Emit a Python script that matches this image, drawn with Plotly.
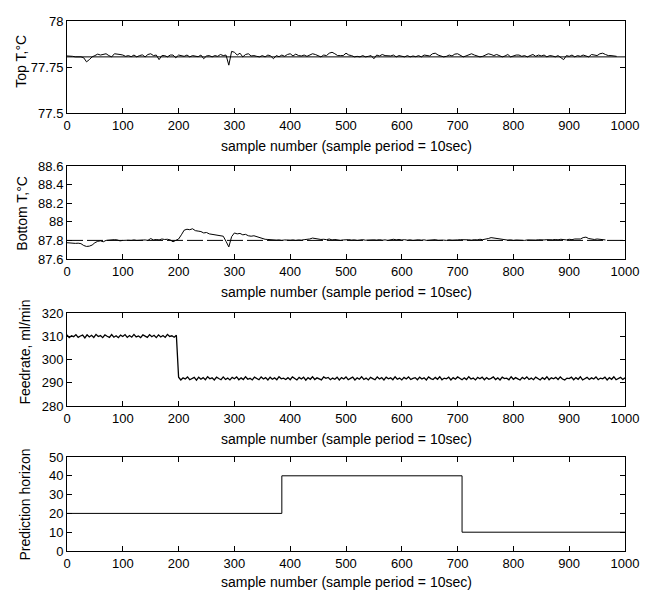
import plotly.graph_objects as go
from plotly.subplots import make_subplots

# ---------------- data ----------------
top_x = list(range(0, 986, 5))
top_T = [77.810, 77.810, 77.808, 77.805, 77.805, 77.805, 77.800, 77.778, 77.790, 77.805,
         77.812, 77.820, 77.815, 77.818, 77.822, 77.812, 77.805, 77.822, 77.818, 77.818,
         77.815, 77.808, 77.812, 77.806, 77.815, 77.805, 77.812, 77.816, 77.805, 77.818,
         77.822, 77.812, 77.815, 77.790, 77.812, 77.812, 77.805, 77.815, 77.815, 77.800,
         77.815, 77.812, 77.808, 77.815, 77.805, 77.812, 77.810, 77.806, 77.815, 77.795,
         77.810, 77.812, 77.805, 77.812, 77.808, 77.818, 77.812, 77.815, 77.760, 77.835,
         77.830, 77.815, 77.825, 77.805, 77.818, 77.822, 77.810, 77.812, 77.808, 77.805,
         77.812, 77.805, 77.815, 77.810, 77.795, 77.812, 77.806, 77.815, 77.808, 77.818,
         77.822, 77.810, 77.820, 77.812, 77.810, 77.815, 77.808, 77.815, 77.822, 77.818,
         77.810, 77.805, 77.815, 77.812, 77.825, 77.830, 77.822, 77.812, 77.812, 77.812,
         77.825, 77.815, 77.812, 77.805, 77.808, 77.805, 77.812, 77.805, 77.808, 77.812,
         77.795, 77.815, 77.810, 77.818, 77.812, 77.812, 77.810, 77.815, 77.805, 77.812,
         77.810, 77.805, 77.812, 77.805, 77.810, 77.806, 77.812, 77.805, 77.815, 77.812,
         77.810, 77.822, 77.825, 77.815, 77.812, 77.805, 77.808, 77.815, 77.810, 77.820,
         77.822, 77.815, 77.805, 77.810, 77.818, 77.822, 77.815, 77.812, 77.805, 77.808,
         77.815, 77.822, 77.818, 77.812, 77.818, 77.812, 77.805, 77.810, 77.818, 77.805,
         77.810, 77.815, 77.815, 77.808, 77.812, 77.805, 77.812, 77.818, 77.808, 77.815,
         77.810, 77.815, 77.805, 77.812, 77.810, 77.805, 77.812, 77.800, 77.790, 77.812,
         77.808, 77.815, 77.805, 77.812, 77.808, 77.815, 77.812, 77.805, 77.818, 77.815,
         77.812, 77.822, 77.825, 77.818, 77.812, 77.812, 77.810, 77.808]
top_setpoint = 77.805

bottom_x = list(range(0, 971, 5))
bottom_T = [87.775, 87.770, 87.772, 87.768, 87.770, 87.765, 87.745, 87.735, 87.738, 87.750,
            87.775, 87.790, 87.795, 87.785, 87.800, 87.805, 87.805, 87.808, 87.805, 87.795,
            87.800, 87.805, 87.802, 87.800, 87.805, 87.800, 87.802, 87.800, 87.805, 87.800,
            87.820, 87.805, 87.810, 87.805, 87.815, 87.810, 87.812, 87.805, 87.785, 87.800,
            87.815, 87.860, 87.910, 87.920, 87.915, 87.925, 87.905, 87.900, 87.895, 87.880,
            87.885, 87.870, 87.865, 87.860, 87.860, 87.850, 87.845, 87.790, 87.730, 87.840,
            87.880, 87.870, 87.875, 87.860, 87.865, 87.850, 87.845, 87.850, 87.840, 87.825,
            87.815, 87.812, 87.810, 87.805, 87.808, 87.803, 87.805, 87.800, 87.805, 87.800,
            87.802, 87.805, 87.800, 87.805, 87.802, 87.808, 87.810, 87.815, 87.825, 87.818,
            87.815, 87.810, 87.812, 87.808, 87.815, 87.805, 87.810, 87.805, 87.800, 87.805,
            87.810, 87.808, 87.803, 87.806, 87.800, 87.804, 87.808, 87.802, 87.805, 87.800,
            87.806, 87.803, 87.808, 87.802, 87.806, 87.800, 87.805, 87.812, 87.806, 87.810,
            87.804, 87.808, 87.802, 87.806, 87.800, 87.804, 87.807, 87.802, 87.806, 87.800,
            87.805, 87.803, 87.808, 87.801, 87.806, 87.803, 87.800, 87.806, 87.802, 87.807,
            87.805, 87.808, 87.810, 87.804, 87.806, 87.802, 87.808, 87.805, 87.812, 87.808,
            87.812, 87.820, 87.830, 87.825, 87.815, 87.810, 87.805, 87.808, 87.803, 87.806,
            87.800, 87.804, 87.802, 87.806, 87.800, 87.805, 87.802, 87.806, 87.803, 87.807,
            87.802, 87.805, 87.808, 87.804, 87.806, 87.810, 87.806, 87.812, 87.808, 87.805,
            87.812, 87.808, 87.815, 87.818, 87.815, 87.830, 87.835, 87.820, 87.815, 87.810,
            87.815, 87.810, 87.805, 87.805]
bottom_setpoint = 87.8

feed_x = list(range(0, 1001, 4))
feedrate = [
    310.6, 309.4, 310.2, 309.8, 310.7, 309.5, 310.1, 310.5, 309.3, 310.6,
    309.7, 310.4, 309.5, 310.8, 309.9, 310.3, 309.4, 310.6, 310.0, 309.5,
    310.7, 309.6, 310.2, 309.4, 310.5, 309.9, 310.7, 309.5, 310.3, 309.6,
    310.8, 309.7, 310.1, 309.4, 310.6, 310.2, 309.5, 310.7, 309.8, 310.4,
    309.4, 310.6, 309.7, 310.3, 309.5, 310.8, 309.9, 310.2, 309.6, 310.4,
    292.4, 291.2, 292.1, 291.6, 292.5, 291.3, 291.9, 292.3, 291.1, 292.4,
    291.5, 292.2, 291.3, 292.6, 291.7, 292.1, 291.2, 292.4, 291.8, 291.3,
    292.5, 291.4, 292.0, 291.2, 292.3, 291.7, 292.5, 291.3, 292.1, 291.4,
    292.6, 291.5, 291.9, 291.2, 292.4, 292.0, 291.3, 292.5, 291.6, 292.2,
    291.2, 292.4, 291.5, 292.1, 291.3, 292.6, 291.7, 292.0, 291.4, 292.2,
    291.3, 292.5, 291.8, 291.2, 292.3, 291.6, 292.4, 291.1, 292.2, 291.5,
    292.6, 291.4, 292.1, 291.7, 291.2, 292.5, 291.9, 292.3, 291.3, 292.0,
    291.5, 292.4, 291.2, 292.2, 291.6, 292.5, 291.3, 291.9, 292.4, 291.2,
    292.1, 291.5, 292.6, 291.4, 292.0, 291.2, 292.3, 291.8, 291.3, 292.5,
    291.6, 292.2, 291.2, 292.4, 291.7, 292.1, 291.3, 292.6, 291.5, 292.0,
    291.2, 292.3, 291.6, 292.5, 291.4, 291.9, 292.2, 291.3, 292.4, 291.6,
    292.1, 291.2, 292.5, 291.8, 291.4, 292.3, 291.5, 292.6, 291.3, 292.0,
    291.7, 292.4, 291.2, 292.2, 291.5, 292.5, 291.9, 291.3, 292.1, 291.4,
    292.6, 291.6, 292.0, 291.2, 292.3, 291.7, 292.4, 291.3, 292.2, 291.5,
    291.9, 292.5, 291.4, 292.1, 291.2, 292.4, 291.8, 292.0, 291.3, 292.6,
    291.5, 292.2, 291.7, 291.2, 292.3, 291.6, 292.5, 291.4, 292.0, 291.3,
    292.4, 291.9, 291.2, 292.2, 291.5, 292.6, 291.3, 292.1, 291.7, 292.3,
    291.4, 292.5, 291.6, 291.2, 292.0, 291.8, 292.4, 291.3, 292.2, 291.5,
    292.6, 291.2, 291.9, 292.3, 291.4, 292.1, 291.6, 292.5, 291.3, 292.0,
    291.7, 292.4, 291.2, 292.2, 291.5, 292.6, 291.3, 291.9, 292.3, 291.4,
    292.1]

horizon_x = [0, 385, 708, 1000]
horizon = [20, 40, 10, 10]

x_ticks = [0, 100, 200, 300, 400, 500, 600, 700, 800, 900, 1000]
top_ticks = [77.5, 77.75, 78]
top_ticktext = ["77.5", "77.75", "78"]
bottom_ticks = [87.6, 87.8, 88.0, 88.2, 88.4, 88.6]
bottom_ticktext = ["87.6", "87.8", "88", "88.2", "88.4", "88.6"]
feed_ticks = [280, 290, 300, 310, 320]
horizon_ticks = [0, 10, 20, 30, 40, 50]

xlabel = "sample number (sample period = 10sec)"
ylabels = ["Top T,°C", "Bottom T,°C", "Feedrate, ml/min", "Prediction horizon"]

# ---------------- layout geometry ----------------
W, H = 651, 590
L, R, T, B = 67, 18, 21, 39
PH = H - T - B
panels = [(21, 113), (166, 259), (313, 406), (457, 551)]
xlab_off = [33, 33, 33, 31]
ylab_px = [(20, 61), (21, 213), (24, 352), (24, 505)]

def py(p):
    return (H - B - p) / PH

FONT = "Liberation Sans, Arial, sans-serif"

fig = make_subplots(rows=4, cols=1)

blk = dict(color="black", width=1)
fig.add_trace(go.Scatter(x=[0, 1000], y=[top_setpoint, top_setpoint], mode="lines",
                         line=blk, showlegend=False), row=1, col=1)
fig.add_trace(go.Scatter(x=top_x, y=top_T, mode="lines", line=blk, showlegend=False), row=1, col=1)
fig.add_trace(go.Scatter(x=[0, 1000], y=[bottom_setpoint, bottom_setpoint], mode="lines",
                         line=dict(color="black", width=1, dash="16px,4px"), showlegend=False), row=2, col=1)
fig.add_trace(go.Scatter(x=bottom_x, y=bottom_T, mode="lines", line=blk, showlegend=False), row=2, col=1)
fig.add_trace(go.Scatter(x=feed_x, y=feedrate, mode="lines", line=dict(color="black", width=1.3),
                         showlegend=False), row=3, col=1)
fig.add_trace(go.Scatter(x=horizon_x, y=horizon, mode="lines", line=dict(color="black", width=1, shape="hv"),
                         showlegend=False), row=4, col=1)

yranges = [[77.5, 78], [87.6, 88.6], [280, 320], [0, 50]]
ytv = [top_ticks, bottom_ticks, feed_ticks, horizon_ticks]
ytt = [top_ticktext, bottom_ticktext, [str(v) for v in feed_ticks], [str(v) for v in horizon_ticks]]

axcommon = dict(showline=True, linecolor="black", linewidth=1, mirror="allticks",
                ticks="inside", ticklen=5, tickcolor="black", tickwidth=1,
                showgrid=False, zeroline=False,
                tickfont=dict(family=FONT, size=13, color="black"))

for i in range(4):
    top_p, bot_p = panels[i]
    xa = "xaxis" if i == 0 else f"xaxis{i+1}"
    ya = "yaxis" if i == 0 else f"yaxis{i+1}"
    fig.layout[xa].update(range=[0, 1000], tickvals=x_ticks, domain=[0, 1], **axcommon)
    fig.layout[ya].update(range=yranges[i], tickvals=ytv[i], ticktext=ytt[i],
                          domain=[py(bot_p), py(top_p)], **axcommon)
    fig.add_annotation(text=xlabel, xref="paper", yref="paper", x=0.5, y=py(bot_p + xlab_off[i]),
                       xanchor="center", yanchor="middle", showarrow=False,
                       font=dict(family=FONT, size=14, color="black"))
    xp, yp = ylab_px[i]
    fig.add_annotation(text=ylabels[i], xref="paper", yref="paper", x=(xp - L) / (W - L - R),
                       y=py(yp), xanchor="center", yanchor="middle", textangle=-90,
                       showarrow=False, font=dict(family=FONT, size=14, color="black"))

fig.update_layout(width=W, height=H, margin=dict(l=L, r=R, t=T, b=B),
                  paper_bgcolor="white", plot_bgcolor="white", showlegend=False)

fig.write_html("out.html")
